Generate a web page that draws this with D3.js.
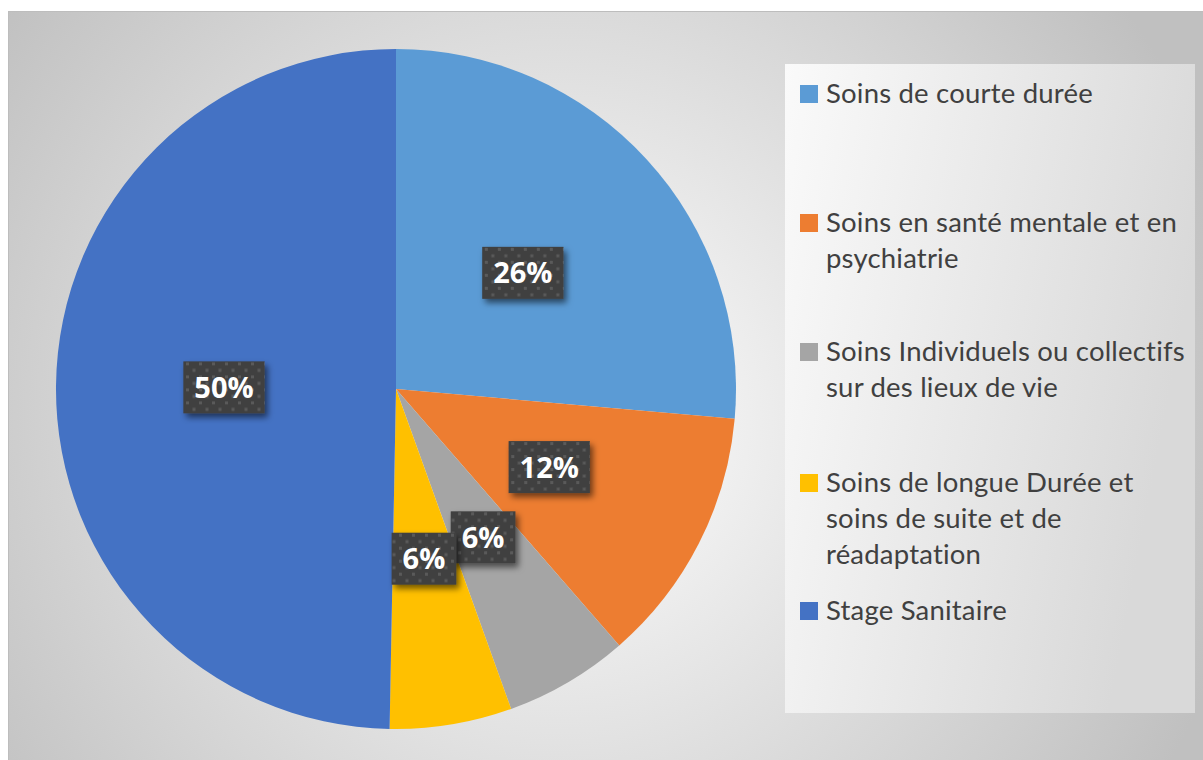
<!DOCTYPE html>
<html>
<head>
<meta charset="utf-8">
<script src="https://cdn.jsdelivr.net/npm/d3@7"></script>
<style>
  html, body { margin: 0; padding: 0; background: #ffffff; }
  svg { display: block; }
</style>
</head>
<body>
<div id="chart"></div>
<script>
// data
var categories = [
  "Soins de courte durée",
  "Soins en santé mentale et en psychiatrie",
  "Soins Individuels ou collectifs sur des lieux de vie",
  "Soins de longue Durée et soins de suite et de réadaptation",
  "Stage Sanitaire"
];
var values = [26.4, 12.2, 5.9, 5.8, 49.7];
var colors = ["#5B9BD5", "#ED7D31", "#A5A5A5", "#FFC000", "#4472C4"];
// legend text broken the same way as the reference
var legendLines = [
  ["Soins de courte durée"],
  ["Soins en santé mentale et en", "psychiatrie"],
  ["Soins Individuels ou collectifs", "sur des lieux de vie"],
  ["Soins de longue Durée et", "soins de suite et de", "réadaptation"],
  ["Stage Sanitaire"]
];

var width = 1203, height = 760;
var cx = 396, cy = 389, radius = 340, labelRadius = 172;
var legendTops = [103, 232, 361, 492, 620];
var lineStep = 36;

var svg = d3.select("#chart").append("svg").attr("width", width).attr("height", height);
var defs = svg.append("defs");

var bg = defs.append("radialGradient").attr("id", "bgGrad")
  .attr("gradientUnits", "userSpaceOnUse")
  .attr("cx", 560).attr("cy", 420).attr("r", 700);
bg.append("stop").attr("offset", "0").attr("stop-color", "#ffffff");
bg.append("stop").attr("offset", "1").attr("stop-color", "#c0c0c0");

var lg = defs.append("linearGradient").attr("id", "legGrad")
  .attr("x1", "0").attr("y1", "0").attr("x2", "1").attr("y2", "0.3");
lg.append("stop").attr("offset", "0").attr("stop-color", "#fafafa");
lg.append("stop").attr("offset", "1").attr("stop-color", "#d9d9d9");

var pat = defs.append("pattern").attr("id", "dots")
  .attr("patternUnits", "userSpaceOnUse").attr("width", 13).attr("height", 13);
pat.append("rect").attr("width", 13).attr("height", 13).attr("fill", "#404040");
pat.append("rect").attr("x", 1).attr("y", 1).attr("width", 3).attr("height", 3).attr("fill", "#5a5a5a");
pat.append("rect").attr("x", 7.5).attr("y", 7.5).attr("width", 3).attr("height", 3).attr("fill", "#5a5a5a");

var shadow = defs.append("filter").attr("id", "shadow")
  .attr("x", "-30%").attr("y", "-30%").attr("width", "160%").attr("height", "160%");
shadow.append("feDropShadow").attr("dx", 3).attr("dy", 4).attr("stdDeviation", 3)
  .attr("flood-color", "#000000").attr("flood-opacity", 0.55);

// chart area
svg.append("rect").attr("x", 8.5).attr("y", 11.5).attr("width", 1210).attr("height", 760)
  .attr("fill", "url(#bgGrad)").attr("stroke", "#bdbdbd").attr("stroke-width", 1);

// pie
var pie = d3.pie().sort(null).value(function(d) { return d; });
var arcs = pie(values);
var arc = d3.arc().innerRadius(0).outerRadius(radius);
var labelArc = d3.arc().innerRadius(labelRadius).outerRadius(labelRadius);

var pieGroup = svg.append("g").attr("transform", "translate(" + cx + "," + cy + ")");
pieGroup.selectAll("path.slice").data(arcs).enter().append("path")
  .attr("class", "slice")
  .attr("d", arc)
  .attr("fill", function(d, i) { return colors[i]; });

// data labels
var labels = pieGroup.selectAll("g.label").data(arcs).enter().append("g")
  .attr("class", "label")
  .attr("transform", function(d) { return "translate(" + labelArc.centroid(d) + ")"; });

labels.each(function(d) {
  var g = d3.select(this);
  var box = g.append("rect").attr("fill", "url(#dots)").attr("filter", "url(#shadow)");
  var t = g.append("text")
    .attr("text-anchor", "middle").attr("dy", "0.36em")
    .attr("font-family", "'Open Sans', sans-serif").attr("font-weight", "bold")
    .attr("font-size", 29).attr("fill", "#ffffff")
    .text(Math.round(d.value) + "%");
  var w = t.node().getComputedTextLength() + 22, h = 52;
  box.attr("x", -w / 2).attr("y", -h / 2).attr("width", w).attr("height", h);
});

// legend
svg.append("rect").attr("x", 785).attr("y", 64).attr("width", 410).attr("height", 649)
  .attr("fill", "url(#legGrad)");

var legend = svg.append("g").attr("font-family", "Lato, sans-serif").attr("font-size", 27.5)
  .attr("letter-spacing", 0.2).attr("fill", "#404040");
legendLines.forEach(function(lines, i) {
  var y0 = legendTops[i];
  legend.append("rect").attr("x", 800).attr("y", y0 - 18).attr("width", 18).attr("height", 18)
    .attr("fill", colors[i]);
  var text = legend.append("text").attr("x", 826).attr("y", y0);
  lines.forEach(function(line, j) {
    text.append("tspan").attr("x", 826).attr("y", y0 + j * lineStep).text(line);
  });
});
</script>
</body>
</html>
